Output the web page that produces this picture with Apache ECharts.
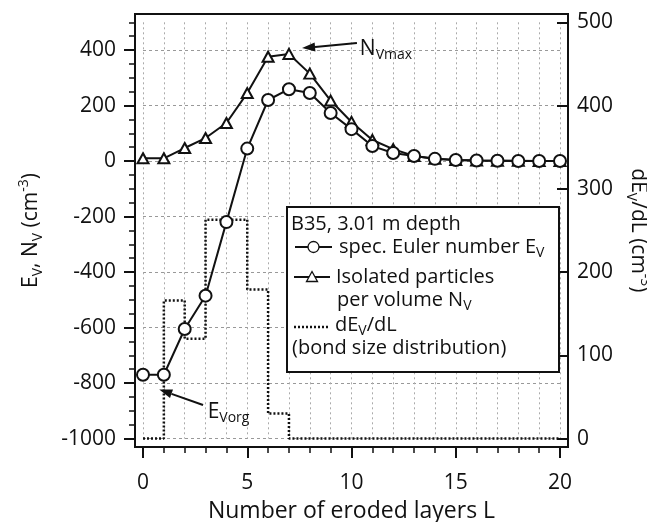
<!DOCTYPE html>
<html>
<head>
<meta charset="utf-8">
<script src="https://cdn.jsdelivr.net/npm/echarts@6/dist/echarts.min.js"></script>
<style>
  html, body { margin: 0; padding: 0; background: #fff; }
  #chart { width: 647px; height: 522px; }
</style>
</head>
<body>
<div id="chart"></div>
<script>
// number of eroded layers L
var layers = [0, 1, 2, 3, 4, 5, 6, 7, 8, 9, 10, 11, 12, 13, 14, 15, 16, 17, 18, 19, 20];
// spec. Euler number E_V (cm^-3)
var eulerEV = [-770, -770, -605, -485, -220, 45, 220, 259, 245, 173, 115, 54, 29, 18, 8, 4, 2, 1, 0, 0, 0];
// isolated particles per volume N_V (cm^-3)
var isolatedNV = [10, 10, 47, 83, 137, 245, 376, 386, 315, 218, 141, 76, 43, 18, 8, 4, 2, 1, 1, 0, 0];
// dE_V/dL, bond size distribution (right axis)
var bondDist = [0, 166, 120, 263, 263, 179, 30, 0, 0, 0, 0, 0, 0, 0, 0, 0, 0, 0, 0, 0, 0];

var FONT = "'Open Sans', sans-serif";
var INK = '#111';

function pairs(xs, ys) {
  return xs.map(function (x, i) { return [x, ys[i]]; });
}

var subRich = {
  s: { fontSize: 14, lineHeight: 12, verticalAlign: 'bottom', fontFamily: FONT, color: INK },
  p: { fontSize: 14, lineHeight: 14, verticalAlign: 'top', fontFamily: FONT, color: INK }
};

var chart = echarts.init(document.getElementById('chart'));

var option = {
  animation: false,
  backgroundColor: '#fff',
  // data area: x 0..20, left y -1000..500 (the frame is drawn a few px outside it)
  grid: {
    left: 143,
    top: 22.3,
    width: 417,
    height: 416.3,
    outerBoundsMode: 'none'
  },
  xAxis: [
    {
      type: 'value',
      position: 'bottom',
      offset: 8.5,
      min: 0,
      max: 20,
      interval: 5,
      name: 'Number of eroded layers L',
      nameLocation: 'middle',
      nameGap: 53,
      nameTextStyle: { fontFamily: FONT, fontSize: 23, color: INK },
      axisLine: { show: false, onZero: false },
      axisTick: { show: true, length: 11, lineStyle: { color: INK, width: 2 } },
      axisLabel: { margin: 25, fontFamily: FONT, fontSize: 21, color: INK },
      splitLine: { show: false }
    },
    {
      type: 'value',
      position: 'bottom',
      offset: 8.5,
      min: 0,
      max: 20,
      interval: 1,
      axisLine: { show: false, onZero: false },
      axisTick: { show: true, length: 6, lineStyle: { color: INK, width: 1.5 } },
      axisLabel: { show: false },
      splitLine: { show: true, lineStyle: { color: '#aaa', width: 1, type: [2, 3] } }
    }
  ],
  yAxis: [
    {
      type: 'value',
      position: 'left',
      offset: 8,
      min: -1000,
      max: 500,
      interval: 200,
      name: 'E{s|V}, N{s|V} (cm{p|-3})',
      nameLocation: 'middle',
      nameGap: 90,
      nameTextStyle: { fontFamily: FONT, fontSize: 21, lineHeight: 28, color: INK, rich: subRich },
      axisLine: { show: false, onZero: false },
      axisTick: { show: true, length: 11, lineStyle: { color: INK, width: 2 } },
      axisLabel: { showMaxLabel: false, margin: 19, fontFamily: FONT, fontSize: 21, color: INK, formatter: function (v) { return String(v); } },
      splitLine: { show: true, showMaxLine: false, lineStyle: { color: '#999', width: 1, type: [3, 3] } }
    },
    {
      type: 'value',
      position: 'left',
      offset: 8,
      min: -1000,
      max: 500,
      interval: 50,
      axisLine: { show: false, onZero: false },
      axisTick: { show: true, length: 6, lineStyle: { color: INK, width: 1.5 } },
      axisLabel: { show: false },
      splitLine: { show: false }
    },
    {
      type: 'value',
      position: 'right',
      offset: 8,
      min: 0,
      max: 500,
      interval: 100,
      name: 'dE{s|V}/dL (cm{p|-3})',
      nameLocation: 'middle',
      nameRotate: -90,
      nameGap: 46,
      nameTextStyle: { fontFamily: FONT, fontSize: 21, lineHeight: 28, color: INK, rich: subRich },
      axisLine: { show: false, onZero: false },
      axisTick: { show: true, inside: true, length: 11, lineStyle: { color: INK, width: 2 } },
      axisLabel: { margin: 9, fontFamily: FONT, fontSize: 21, color: INK },
      splitLine: { show: false }
    }
  ],
  series: [
    {
      name: 'dEV/dL',
      type: 'line',
      xAxisIndex: 0,
      yAxisIndex: 2,
      step: 'end',
      symbol: 'none',
      clip: false,
      lineStyle: { color: INK, width: 2.5, type: [2, 2] },
      data: pairs(layers, bondDist)
    },
    {
      name: 'NV',
      type: 'line',
      xAxisIndex: 0,
      yAxisIndex: 0,
      symbol: 'emptyTriangle',
      symbolSize: [11, 10],
      clip: false,
      itemStyle: { color: INK, borderWidth: 1.3 },
      lineStyle: { color: INK, width: 2 },
      data: pairs(layers, isolatedNV)
    },
    {
      name: 'EV',
      type: 'line',
      xAxisIndex: 0,
      yAxisIndex: 0,
      symbol: 'emptyCircle',
      symbolSize: 12,
      clip: false,
      itemStyle: { color: INK, borderWidth: 1.3 },
      lineStyle: { color: INK, width: 2 },
      data: pairs(layers, eulerEV)
    }
  ]
};

chart.setOption(option);

// annotation arrows, in data coordinates of the left axis
function arrow(tipData, tailData) {
  var tip = chart.convertToPixel({ xAxisIndex: 0, yAxisIndex: 0 }, tipData);
  var tail = chart.convertToPixel({ xAxisIndex: 0, yAxisIndex: 0 }, tailData);
  var dx = tail[0] - tip[0], dy = tail[1] - tip[1];
  var len = Math.sqrt(dx * dx + dy * dy);
  var ux = dx / len, uy = dy / len;
  var bx = tip[0] + ux * 13, by = tip[1] + uy * 13;
  return [
    { type: 'line', z: 20, shape: { x1: bx, y1: by, x2: tail[0], y2: tail[1] }, style: { stroke: INK, lineWidth: 2 } },
    { type: 'polygon', z: 20, shape: { points: [tip, [bx - uy * 4.5, by + ux * 4.5], [bx + uy * 4.5, by - ux * 4.5]] }, style: { fill: INK } }
  ];
}

function label(text, pos, size) {
  return {
    type: 'text',
    z: 60,
    style: {
      text: text, x: pos[0], y: pos[1], fill: INK,
      fontFamily: FONT, fontSize: size || 20, lineHeight: 26,
      align: 'left', verticalAlign: 'middle',
      rich: {
        s: { fontSize: 14, lineHeight: 12, verticalAlign: 'bottom', fontFamily: FONT, fill: INK },
        p: { fontSize: 14, lineHeight: 14, verticalAlign: 'top', fontFamily: FONT, fill: INK }
      }
    }
  };
}

var nvTextPos = chart.convertToPixel({ xAxisIndex: 0, yAxisIndex: 0 }, [10.4, 405]);
var evTextPos = chart.convertToPixel({ xAxisIndex: 0, yAxisIndex: 0 }, [3.1, -905]);

var graphics = [
  // plot frame
  { type: 'rect', z: 10, shape: { x: 135, y: 14, width: 433, height: 433 }, style: { fill: null, stroke: INK, lineWidth: 2 } }
]
  .concat(arrow([7.63, 407], [10.26, 425]))
  .concat(arrow([0.78, -823], [2.88, -879]))
  .concat([
    label('N{s|Vmax}', nvTextPos, 21),
    label('E{s|Vorg}', evTextPos, 21)
  ]);

// legend box
graphics = graphics.concat([
  { type: 'rect', z: 50, shape: { x: 287, y: 207, width: 272, height: 165 }, style: { fill: '#fff', stroke: INK, lineWidth: 2 } },
  label('B35, 3.01 m depth', [291, 224]),
  { type: 'line', z: 60, shape: { x1: 295, y1: 247, x2: 332, y2: 247 }, style: { stroke: INK, lineWidth: 2 } },
  { type: 'circle', z: 61, shape: { cx: 313.5, cy: 247, r: 5.5 }, style: { fill: '#fff', stroke: INK, lineWidth: 1.3 } },
  label('spec. Euler number E{s|V}', [339, 247]),
  { type: 'line', z: 60, shape: { x1: 294, y1: 277, x2: 330, y2: 277 }, style: { stroke: INK, lineWidth: 2 } },
  { type: 'polygon', z: 61, shape: { points: [[312, 271.5], [317.5, 281.5], [306.5, 281.5]] }, style: { fill: '#fff', stroke: INK, lineWidth: 1.3 } },
  label('Isolated particles', [336, 277]),
  label('per volume N{s|V}', [337, 300]),
  { type: 'line', z: 60, shape: { x1: 294, y1: 327, x2: 329, y2: 327 }, style: { stroke: INK, lineWidth: 2.5, lineDash: [2, 2] } },
  label('dE{s|V}/dL', [335, 325]),
  label('(bond size distribution)', [292, 348])
]);

chart.setOption({ graphic: graphics });
</script>
</body>
</html>
